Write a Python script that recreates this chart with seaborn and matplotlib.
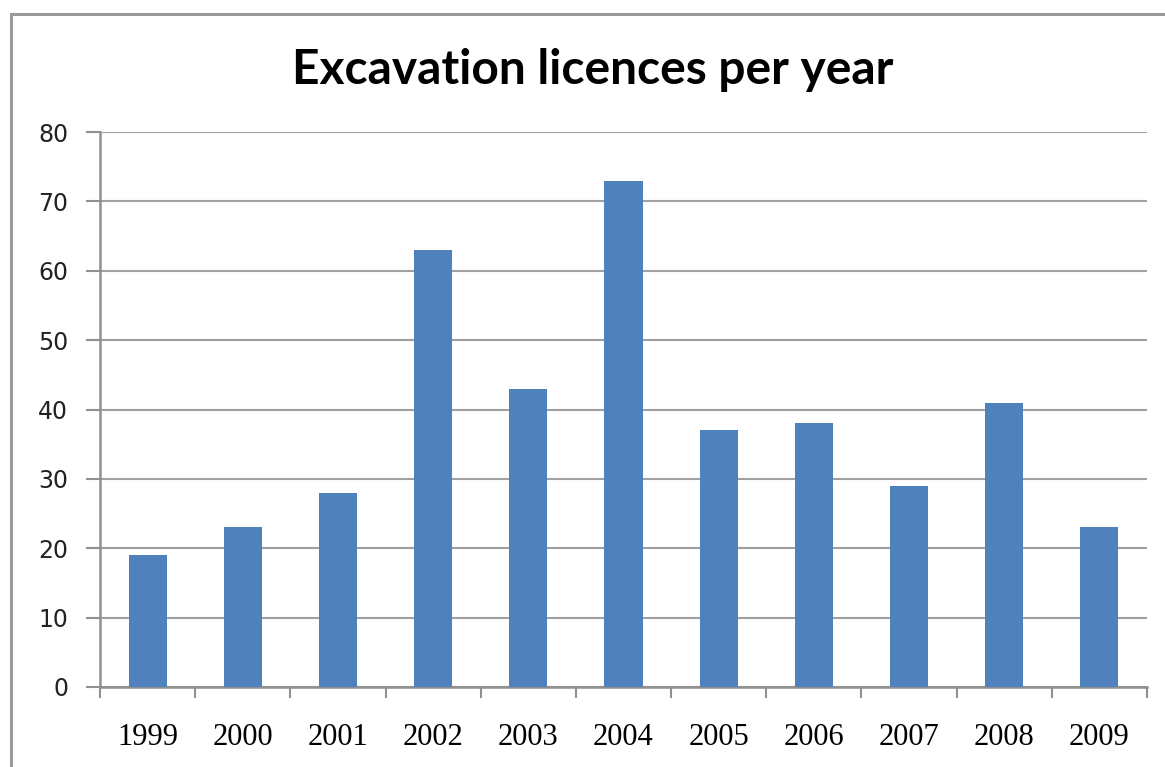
import matplotlib
matplotlib.use("Agg")
import matplotlib.pyplot as plt
import seaborn as sns
import pandas as pd
from matplotlib.patches import Rectangle

years = ["1999", "2000", "2001", "2002", "2003", "2004", "2005", "2006", "2007", "2008", "2009"]
licences = [19, 23, 28, 63, 43, 73, 37, 38, 29, 41, 23]
title = "Excavation licences per year"
yticks = [0, 10, 20, 30, 40, 50, 60, 70, 80]

sns.set_theme(style="white")
W, H = 1165, 767
fig = plt.figure(figsize=(W / 100, H / 100), dpi=100)
fig.patch.set_facecolor("white")

# chart border
fig.patches.append(Rectangle((11 / W, -0.1), 1.2, 1 - 14 / H + 0.1, transform=fig.transFigure,
                             fill=False, edgecolor="#9a9a9a", linewidth=2.2))

ax = fig.add_axes([100 / W, 1 - 687 / H, (1147 - 100) / W, (687 - 132) / H])
df = pd.DataFrame({"year": years, "licences": licences})
sns.barplot(data=df, x="year", y="licences", color="#4F81BD", width=0.4, saturation=1,
            edgecolor="none", ax=ax, zorder=3)

ax.set_ylim(0, 80)
ax.set_xlim(-0.5, len(years) - 0.5)
ax.set_yticks(yticks)
ax.yaxis.grid(True, color="#a0a0a0", linewidth=1.5, zorder=0)
ax.set_axisbelow(True)
for s in ["top", "right"]:
    ax.spines[s].set_visible(False)
for s in ["left", "bottom"]:
    ax.spines[s].set_color("#909090")
    ax.spines[s].set_linewidth(1.8)

ax.set_xlabel("")
ax.set_ylabel("")
ax.tick_params(axis="y", which="major", direction="out", length=10, width=1.5, color="#909090",
               labelsize=17, pad=13, left=True)
ax.set_xticks([i - 0.5 for i in range(len(years) + 1)], minor=True)
ax.tick_params(axis="x", which="minor", direction="out", length=8, width=1.5, color="#909090", bottom=True)
ax.tick_params(axis="x", which="major", length=0, pad=26)
for lab in ax.get_xticklabels():
    lab.set_fontfamily("Liberation Serif")
    lab.set_fontsize(22)
    lab.set_color("black")
for lab in ax.get_yticklabels():
    lab.set_fontfamily("DejaVu Sans")
    lab.set_color("#222222")

fig.text(593 / W, 1 - 70 / H, title, ha="center", va="center", fontsize=34.5,
         fontweight="bold", family="Lato", color="black")

fig.savefig("out.png", dpi=100)
